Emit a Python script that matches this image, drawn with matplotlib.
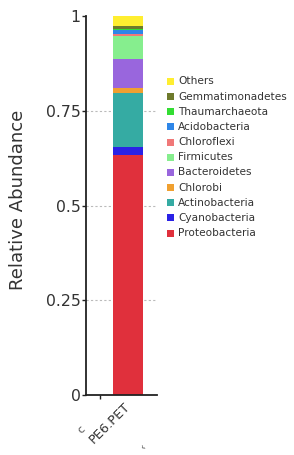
import matplotlib
matplotlib.use("Agg")
import matplotlib.pyplot as plt
from matplotlib.patches import Rectangle

# Data (bottom to top stacking order)
sample = "PE6.PET"
phyla = ["Proteobacteria", "Cyanobacteria", "Actinobacteria", "Chlorobi",
         "Bacteroidetes", "Firmicutes", "Chloroflexi", "Acidobacteria",
         "Thaumarchaeota", "Gemmatimonadetes", "Others"]
abundance = [0.633, 0.022, 0.142, 0.012, 0.077, 0.061, 0.005, 0.011,
             0.002, 0.009, 0.026]
colors = ["#E0303C", "#2A22E6", "#35ABA3", "#F0A030", "#9966DD", "#86EE8E",
          "#F07878", "#2E86E8", "#33DD33", "#6E7A2C", "#FFEE30"]
yticks = [0, 0.25, 0.5, 0.75, 1]
yticklabels = ["0", "0.25", "0.5", "0.75", "1"]

W, H = 294, 455
fig = plt.figure(figsize=(W / 100, H / 100), dpi=100)
ax = fig.add_axes([86 / W, 1 - 395 / H, 71 / W, 379 / H])

bottom = 0.0
for name, val, col in zip(phyla, abundance, colors):
    ax.bar(0, val, width=0.8, bottom=bottom, color=col, edgecolor="none",
           zorder=2)
    bottom += val

ax.set_xlim(-1.12, 0.773)
ax.set_ylim(0, 1)
ax.set_yticks(yticks)
ax.set_yticklabels(yticklabels, fontsize=11.3, color="#333333")
for g in [0.25, 0.5, 0.75]:
    ax.axhline(g, color="#bbbbbb", linestyle=(0, (2, 2)), linewidth=0.8,
               zorder=1)

ax.set_xticks([-0.747])
ax.set_xticklabels([""])
ax.tick_params(axis="both", length=3, width=1.0, color="#222222")
ax.tick_params(axis="y", pad=1)
for s in ["top", "right"]:
    ax.spines[s].set_visible(False)
for s in ["left", "bottom"]:
    ax.spines[s].set_linewidth(1.3)
    ax.spines[s].set_color("#222222")

ax.set_ylabel("Relative Abundance", fontsize=13, color="#333333")
ax.yaxis.set_label_coords(-(86 - 27) / 71, (395 - 200) / 379)

# sample label rotated
ax.text(-0.12, -0.012, sample, rotation=45, ha="right", va="top",
        rotation_mode="anchor", fontsize=9.3, color="#333333",
        transform=ax.get_xaxis_transform())
fig.text(81 / W, 1 - 430 / H, "c", rotation=45, fontsize=8,
         color="#555555", ha="center", va="center")
fig.text(143 / W, 1 - 447 / H, "\u2039", rotation=45, fontsize=7,
         color="#555555", ha="center", va="center")

# legend (top to bottom: Others ... Proteobacteria)
for i, idx in enumerate(range(len(phyla) - 1, -1, -1)):
    yc = 81.5 + i * 15.15
    fig.add_artist(Rectangle((167 / W, 1 - (yc + 3.5) / H), 7 / W, 7 / H,
                             transform=fig.transFigure, color=colors[idx],
                             linewidth=0))
    fig.text(178 / W, 1 - yc / H, phyla[idx], fontsize=7.6, color="#333333",
             ha="left", va="center")

fig.savefig("out.png", dpi=100)
